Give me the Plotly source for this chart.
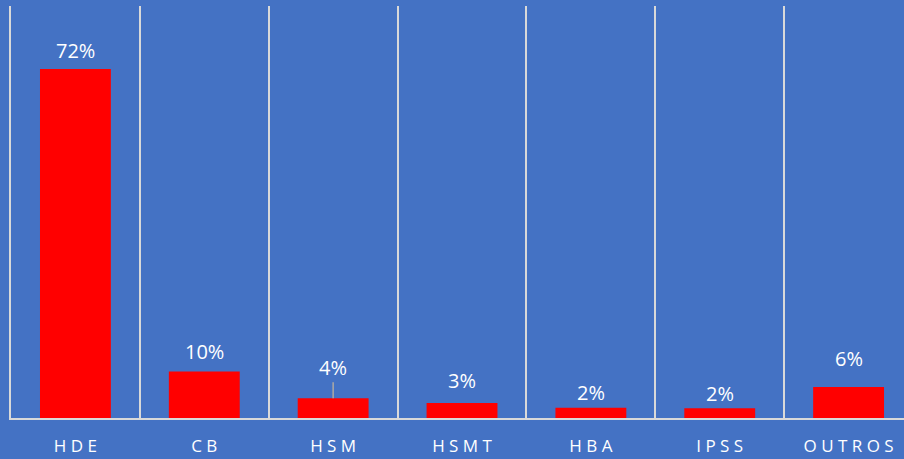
import plotly.graph_objects as go

# share of cases by origin (%)
categories = ["HDE", "CB", "HSM", "HSMT", "HBA", "IPSS", "OUTROS"]
values = [72.0, 9.6, 4.1, 3.1, 2.1, 2.0, 6.4]
labels = ["72%", "10%", "4%", "3%", "2%", "2%", "6%"]
label_offsets = [-19, -20, -31, -22, -15, -15, -28]
leader_colors = ["rgba(0,0,0,0)", "rgba(0,0,0,0)", "#A6A6A6",
                 "rgba(0,0,0,0)", "rgba(0,0,0,0)", "rgba(0,0,0,0)", "rgba(0,0,0,0)"]

bg = "#4472C4"
grid = "#D9D9D9"
font_family = "Open Sans, Noto Sans, sans-serif"

fig = go.Figure()
fig.add_trace(go.Bar(x=categories, y=values, marker_color="#FF0000",
                     marker_line_width=0, hoverinfo="skip"))

# data labels with (mostly invisible) leader lines
for c, v, t, off, lc in zip(categories, values, labels, label_offsets, leader_colors):
    fig.add_annotation(x=c, y=v, text=t, showarrow=True, arrowhead=0,
                       arrowwidth=1.6, arrowcolor=lc, ax=0, ay=off,
                       standoff=0, startstandoff=0,
                       font=dict(size=20, color="white", family=font_family))

fig.update_layout(
    width=904, height=459,
    paper_bgcolor=bg, plot_bgcolor=bg,
    margin=dict(l=11, r=0, t=6, b=41),
    bargap=0.45,
    showlegend=False,
    xaxis=dict(
        type="category",
        range=[-0.5, 6.43],
        tickson="boundaries",
        ticks="",
        showgrid=True, gridcolor=grid, gridwidth=1.5,
        showline=True, linecolor=grid, linewidth=1.5,
        tickvals=categories,
        ticktext=[" ".join(c) for c in categories],
        tickfont=dict(size=17, color="white", family=font_family),
        ticklabelstandoff=12,
    ),
    yaxis=dict(
        range=[0, 85],
        showgrid=False, zeroline=False,
        showticklabels=False, ticks="",
        showline=True, linecolor=grid, linewidth=1.5,
    ),
)

fig.write_html("out.html", config={"displayModeBar": False},
               post_script="document.body.style.margin='0';")
